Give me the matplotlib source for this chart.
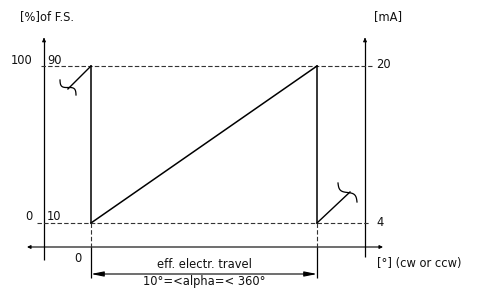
import numpy as np
import matplotlib.pyplot as plt
from matplotlib.patches import FancyArrowPatch

# chart values (output in % of full scale vs. % of effective travel)
travel = [0, 100]
output = [10, 90]
pre_x, pre_y = [0, -10.2], [90, 78.3]      # before start of travel
post_x, post_y = [100, 114.6], [10, 25.8]  # after end of travel
left_ticks = [("100", "90"), ("0", "10")]
right_ticks = ["20", "4"]

W, H = 481, 289
SX, SY = 2.26, 1.9625  # px per unit


def d(xp, yp):
    # pixel position -> data coords
    return (xp - 91) / SX, 10 + (223 - yp) / SY


plt.rcParams['font.family'] = 'DejaVu Sans'
fig = plt.figure(figsize=(W / 100, H / 100), dpi=100)
ax = fig.add_axes([0, 0, 1, 1])
x0, y0 = d(0, H)
x1, y1 = d(W, 0)
ax.set_xlim(x0, x1)
ax.set_ylim(y0, y1)
ax.axis('off')

fs = 8.3
tc = '#111111'
lk = dict(color='black', lw=0.9, solid_capstyle='butt')

# vertical axes
for xp, ybot in [(44, 260), (365, 257)]:
    ax.plot(*zip(d(xp, ybot), d(xp, 40)), **lk)
    ax.add_patch(FancyArrowPatch(d(xp, 42), d(xp, 35), arrowstyle='-|>',
                                 mutation_scale=5, color='black', lw=0.8))
# horizontal axis
ax.add_patch(FancyArrowPatch(d(27, 247), d(383, 247), arrowstyle='<|-|>',
                             mutation_scale=5, color='black', lw=0.8,
                             shrinkA=0, shrinkB=0))

# dashed levels
dk = dict(color='#333333', lw=0.8, ls=(0, (4, 2)))
ax.plot([d(41, 0)[0], d(372, 0)[0]], [output[1]] * 2, **dk)
ax.plot([d(37, 0)[0], d(370, 0)[0]], [output[0]] * 2, **dk)

# ramp and edges
ax.plot(travel, output, color='black', lw=1.1)
for t in travel:
    ax.plot([t, t], output, color='black', lw=1.1)
    ax.plot([t, t], [output[0], d(0, 247)[1]], **dk)
    ax.plot([t, t], [d(0, 247)[1], d(0, 278)[1]], **lk)
ax.plot(pre_x, pre_y, color='black', lw=1.0)
ax.plot(post_x, post_y, color='black', lw=1.0)

# break symbols
for (ax_, ay_), (bx_, by_) in [((60, 80), (76, 95)), ((338, 183), (357, 202))]:
    t = np.linspace(-1, 1, 40)
    cx, cy = (ax_ + bx_) / 2, (ay_ + by_) / 2
    hx, hy = (bx_ - ax_) / 2, (by_ - ay_) / 2
    n = np.hypot(hx, hy)
    px, py = hy / n, -hx / n
    xs = cx + t * hx + 3.4 * np.sin(np.pi * t) * px
    ys = cy + t * hy + 3.4 * np.sin(np.pi * t) * py
    pts = np.array([d(a, b) for a, b in zip(xs, ys)])
    ax.plot(pts[:, 0], pts[:, 1], color='black', lw=0.9)

# dimension line
ax.add_patch(FancyArrowPatch((travel[0], d(0, 274)[1]), (travel[1], d(0, 274)[1]),
                             arrowstyle='<|-|>,head_length=1.5,head_width=0.3',
                             mutation_scale=5, color='black', lw=0.8,
                             shrinkA=0, shrinkB=0))
xm = (travel[0] + travel[1]) / 2
ax.text(xm, d(0, 264)[1], "eff. electr. travel", ha='center', va='center',
        fontsize=fs, color=tc)
ax.text(xm, d(0, 281)[1], "10°=<alpha=< 360°", ha='center', va='center',
        fontsize=fs, color=tc)

# labels
ax.text(*d(20, 17), "[%]of F.S.", ha='left', va='center', fontsize=fs, color=tc)
ax.text(*d(374, 17), "[mA]", ha='left', va='center', fontsize=fs, color=tc)
for (outer, inner), yp in zip(left_ticks, [60, 216]):
    ax.text(*d(33, yp), outer, ha='right', va='center', fontsize=fs, color=tc)
    ax.text(*d(47, yp), inner, ha='left', va='center', fontsize=fs, color=tc)
for lab, yp in zip(right_ticks, [65, 223]):
    ax.text(*d(376, yp), lab, ha='left', va='center', fontsize=fs, color=tc)
ax.text(*d(78, 258), "0", ha='center', va='center', fontsize=fs, color=tc)
ax.text(*d(377, 263), "[°] (cw or ccw)", ha='left', va='center', fontsize=fs,
        color=tc)

fig.savefig("out.png", dpi=100)
